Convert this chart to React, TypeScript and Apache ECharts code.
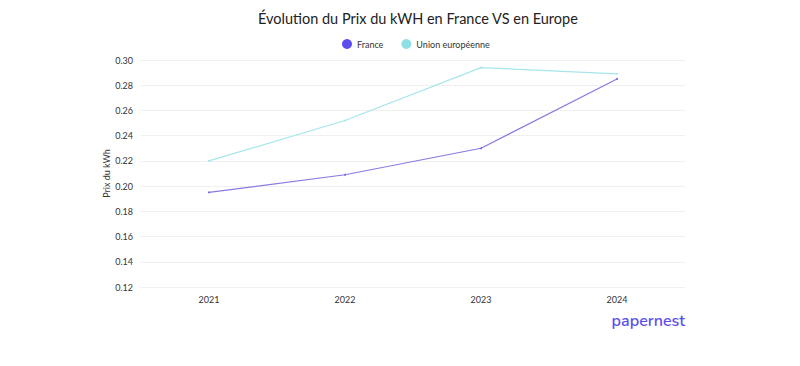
import React, { useEffect, useRef } from "react";
import * as echarts from "echarts";

const years = ["2021", "2022", "2023", "2024"];
const france = [0.195, 0.209, 0.23, 0.285];
const unionEuropeenne = [0.22, 0.252, 0.294, 0.289];

export default function App() {
  const ref = useRef<HTMLDivElement>(null);
  useEffect(() => {
    if (!ref.current) return;
    const chart = echarts.init(ref.current, null, { renderer: "svg" });
    const font = "Lato, 'Noto Sans', sans-serif";
    chart.setOption({
      animation: false,
      backgroundColor: "#ffffff",
      textStyle: { fontFamily: font },
      title: {
        text: "Évolution du Prix du kWH en France VS en Europe",
        left: 245,
        top: -2,
        textStyle: { fontSize: 14.5, fontWeight: "normal", color: "#222", fontFamily: font },
      },
      legend: {
        top: 26,
        left: 329,
        icon: "circle",
        itemWidth: 10,
        itemHeight: 10,
        itemGap: 18,
        textStyle: { fontSize: 9, color: "#333", fontFamily: font },
        data: [
          { name: "France", itemStyle: { color: "#5b4ef0" } },
          { name: "Union européenne", itemStyle: { color: "#8fe0e6" } },
        ],
      },
      grid: { left: 133, right: 107, top: 52, bottom: 71 },
      xAxis: {
        type: "category",
        data: years,
        boundaryGap: true,
        axisLine: { show: false },
        axisTick: { show: false },
        axisLabel: { fontSize: 9, color: "#333", margin: 8 },
      },
      yAxis: {
        type: "value",
        min: 0.12,
        max: 0.3,
        interval: 0.02,
        name: "Prix du kWh",
        nameLocation: "middle",
        nameGap: 30,
        nameMoveOverlap: false,
        nameTextStyle: { fontSize: 9, color: "#333" },
        axisLabel: {
          fontSize: 9,
          color: "#333",
          formatter: (v: number) => v.toFixed(2),
        },
        splitLine: { lineStyle: { color: "#f0f0f0", width: 1 } },
      },
      series: [
        {
          name: "France",
          type: "line",
          data: france,
          symbol: "circle",
          symbolSize: 2,
          color: "#5b4ef0",
          lineStyle: { color: "#8a7be2", width: 1.2 },
          itemStyle: { color: "#7a6be0" },
        },
        {
          name: "Union européenne",
          type: "line",
          data: unionEuropeenne,
          symbol: "circle",
          symbolSize: 2,
          color: "#8fe0e6",
          lineStyle: { color: "#a6e6ea", width: 1.2 },
          itemStyle: { color: "#a6e6ea" },
        },
      ],
      graphic: [
        {
          type: "text",
          right: 107,
          top: 305,
          style: {
            text: "papernest",
            fontSize: 16,
            fontWeight: 600,
            fill: "#5b4ef0",
            fontFamily: "Nunito, 'Noto Sans', sans-serif",
          },
        },
      ],
    });
    return () => chart.dispose();
  }, []);
  return <div ref={ref} style={{ width: 784, height: 350 }} />;
}
